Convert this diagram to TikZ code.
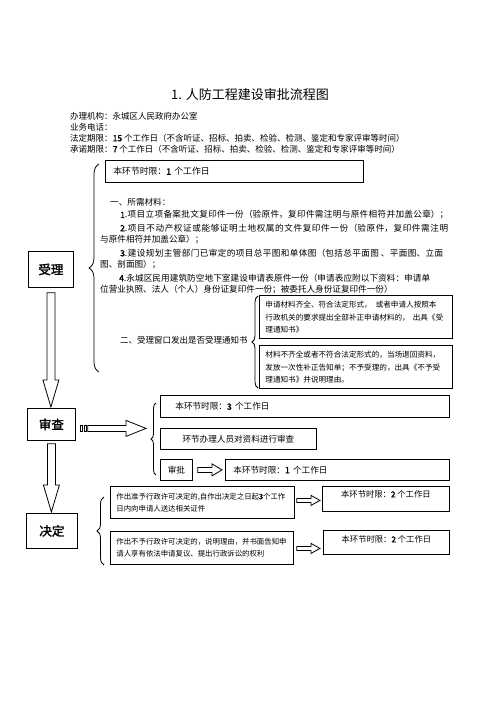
\documentclass[tikz,border=0pt]{standalone}
\usepackage{fontspec}
\setmainfont{Noto Sans CJK SC}
\newfontfamily\bcjk{Noto Sans CJK SC}[FakeBold=2]
\usetikzlibrary{decorations.pathreplacing,calc}
\newcommand\fsz[1]{\fontsize{#1}{#1}\selectfont}
\newcommand\jl[2]{\parbox{#1}{\XeTeXlinebreaklocale "zh"\XeTeXlinebreakskip=0pt plus 4pt\parfillskip=0pt\relax #2}}
\newcommand\hblock[5]{\draw[blk] let \p1=(#1), \p2=(#2) in (\x1,\y2+#3) -- (\x2-#5,\y2+#3) -- (\x2-#5,\y2+#4) -- (\x2,\y2) -- (\x2-#5,\y2-#4) -- (\x2-#5,\y2-#3) -- (\x1,\y2-#3) -- cycle;}
\newcommand\vblock[2]{\draw[blk] let \p1=(#1), \p2=(#2) in (\x1-4pt,\y1) -- (\x1+4pt,\y1) -- (\x1+4pt,\y2+27pt) -- (\x1+8pt,\y2+27pt) -- (\x1,\y2) -- (\x1-8pt,\y2+27pt) -- (\x1-4pt,\y2+27pt) -- cycle;}
\begin{document}
\begin{tikzpicture}[x=1pt,y=-1pt,
  every node/.style={inner sep=0pt, text=black},
  txt/.style={anchor=west},
  bx/.style={draw, line width=0.8pt, anchor=north west, inner ysep=0pt, inner xsep=0pt, align=left},
  blk/.style={draw, line width=0.8pt, fill=white, line join=miter},
  brc/.style={draw, line width=0.8pt, decorate},
]
\useasboundingbox (0,0) rectangle (496,702);
\fill[white] (0,0) rectangle (496,702);

% title and info
\node (title) at (250,95) {\fsz{13}1. 人防工程建设审批流程图};
\node[txt] (inf1) at (70,116) {\fsz{8.5}办理机构：永城区人民政府办公室};
\node[txt] (inf2) at (70,127) {\fsz{8.5}业务电话：};
\node[txt] (inf3) at (70,138) {\fsz{8.5}法定期限：{\bcjk 15} 个工作日（不含听证、招标、拍卖、检验、检测、鉴定和专家评审等时间）};
\node[txt] (inf4) at (70,149) {\fsz{8.5}承诺期限：{\bcjk 7} 个工作日（不含听证、招标、拍卖、检验、检测、鉴定和专家评审等时间）};

% stage boxes
\node[bx, minimum width=45pt, minimum height=36pt, align=center] (shouli) at (28,251) {\bcjk\fsz{12.5}受理};
\node[bx, minimum width=48pt, minimum height=32pt, align=center] (shencha) at (27,408) {\bcjk\fsz{12.5}审查};
\node[bx, minimum width=51pt, minimum height=35pt, align=center] (jueding) at (26,513) {\bcjk\fsz{12.5}决定};

% acceptance section
\node[bx, minimum width=258pt, minimum height=22pt, text width=242pt, inner xsep=8pt] (t1) at (105,160) {\fsz{8.8}本环节时限：{\bcjk 1} 个工作日};
\node[txt] (m0) at (110,202) {\fsz{8.6}一、所需材料：};
\node[txt] (m1) at (120,215) {\fsz{8.6}\jl{328pt}{{\bcjk 1}.项目立项备案批文复印件一份（验原件，复印件需注明与原件相符并加盖公章）；}};
\node[txt] (m2) at (120,228) {\fsz{8.6}\jl{328pt}{{\bcjk 2}.项目不动产权证或能够证明土地权属的文件复印件一份（验原件，复印件需注明}};
\node[txt] (m2b) at (100,240) {\fsz{8.6}与原件相符并加盖公章）；};
\node[txt] (m3) at (120,253) {\fsz{8.6}\jl{323pt}{{\bcjk 3}.建设规划主管部门已审定的项目总平图和单体图（包括总平面图 、平面图、立面}};
\node[txt] (m3b) at (100,265) {\fsz{8.6}图、剖面图）；};
\node[txt] (m4) at (119,278) {\fsz{8.6}\jl{311pt}{{\bcjk 4}.永城区民用建筑防空地下室建设申请表原件一份（申请表应附以下资料：申请单}};
\node[txt] (m4b) at (100,290) {\fsz{8.6}位营业执照、法人（个人）身份证复印件一份；被委托人身份证复印件一份）};
\node[txt] (m5) at (120,340) {\fsz{8.5}二、受理窗口发出是否受理通知书};

\node[bx, minimum width=193pt, minimum height=43pt, text width=181pt, inner xsep=6pt] (ok1) at (259,295)
  {\fontsize{7.6}{13}\selectfont \mbox{申请材料齐全、符合法定形式，\hspace{4pt}或者申请人按照本}\\\mbox{行政机关的要求提出全部补正申请材料的，\hspace{3pt}出具《受}\\\mbox{理通知书》}};
\node[bx, minimum width=193pt, minimum height=43pt, text width=181pt, inner xsep=6pt] (no1) at (259,345)
  {\fontsize{7.6}{13}\selectfont \mbox{材料不齐全或者不符合法定形式的，当场退回资料，}\\\mbox{发放一次性补正告知单；不予受理的，出具《不予受}\\\mbox{理通知书》并说明理由。}};

\draw[brc, decoration={brace, amplitude=10pt}] (99,372) -- (99,164);
\draw[brc, decoration={brace, amplitude=6pt}] (258,388) -- (258,296);

% review section
\node[bx, minimum width=289pt, minimum height=22pt, text width=259pt, inner xsep=15pt] (s3) at (160,395) {\fsz{8.6}本环节时限：{\bcjk 3} 个工作日};
\node[bx, minimum width=156pt, minimum height=21pt, align=center] (srv) at (160,428) {\fsz{8.6}环节办理人员对资料进行审查};
\node[bx, minimum width=32pt, minimum height=21pt, align=center] (sp) at (160,459) {\fsz{8.6}审批};
\node[bx, minimum width=224pt, minimum height=21pt, text width=208pt, inner xsep=8pt] (s1) at (225,459) {\fsz{8.6}本环节时限：{\bcjk 1} 个工作日};
\draw[brc, decoration={brace, amplitude=5pt}] (156,475) -- (156,403);

% decision section
\node[bx, minimum width=184pt, minimum height=32pt, text width=172pt, inner xsep=6pt] (jd1) at (110,486)
  {\fontsize{7.4}{14}\selectfont \mbox{作出准予行政许可决定的,自作出决定之日起{\bcjk 3}个工作}\\\mbox{日内向申请人送达相关证件}};
\node[bx, minimum width=183pt, minimum height=33pt, text width=171pt, inner xsep=6pt] (jd2) at (110,531)
  {\fontsize{7.4}{13}\selectfont \mbox{作出不予行政许可决定的，说明理由，并书面告知申}\\\mbox{请人享有依法申请复议、提出行政诉讼的权利}};
\node[bx, minimum width=127pt, inner ysep=2pt, text height=9pt, text depth=12pt, align=center] (jt1) at (322,486) {\fsz{8.3}本环节时限：{\bcjk 2} 个工作日};
\node[bx, minimum width=126pt, inner ysep=2pt, text height=10pt, text depth=10pt, align=center] (jt2) at (323,530) {\fsz{8.3}本环节时限：{\bcjk 2} 个工作日};
\draw[brc, decoration={brace, amplitude=7pt}] (104,565) -- (104,497);

% arrows
\coordinate (v1s) at ($(shouli.south)+(0,5)$);
\coordinate (v1e) at ($(shencha.north)+(0,-1)$);
\vblock{v1s}{v1e}
\coordinate (v2s) at ($(shencha.south)+(0,3)$);
\coordinate (v2e) at ($(jueding.north)+(0,-1)$);
\vblock{v2s}{v2e}

\coordinate (h0) at ($(shencha.east)+(4,4)$);
\coordinate (h1) at ($(s3.west |- h0)+(-14,0)$);
\draw[line width=0.6pt] let \p1=(h0) in (\x1,\y1-3pt) rectangle (\x1+2pt,\y1+3pt) (\x1+4pt,\y1-3pt) rectangle (\x1+6pt,\y1+3pt);
\fill let \p1=(h0) in (\x1+8pt,\y1-3pt) rectangle (\x1+10pt,\y1+3pt);
\coordinate (h0s) at ($(h0)+(8,0)$);
\hblock{h0s}{h1}{3pt}{8pt}{20pt}

\coordinate (a3s) at ($(sp.east)+(5,0)$);
\coordinate (a3e) at ($(s1.west)+(-3,0)$);
\hblock{a3s}{a3e}{2.5pt}{6pt}{10pt}
\coordinate (a4s) at ($(jd1.east)+(2,-2)$);
\coordinate (a4e) at ($(jt1.west)+(-2,1.5)$);
\hblock{a4s}{a4e}{2pt}{5pt}{9pt}
\coordinate (a5s) at ($(jd2.east)+(3,0)$);
\coordinate (a5e) at ($(jt2.west)+(-3,6)$);
\hblock{a5s}{a5e}{2pt}{5pt}{9pt}
\end{tikzpicture}
\end{document}
